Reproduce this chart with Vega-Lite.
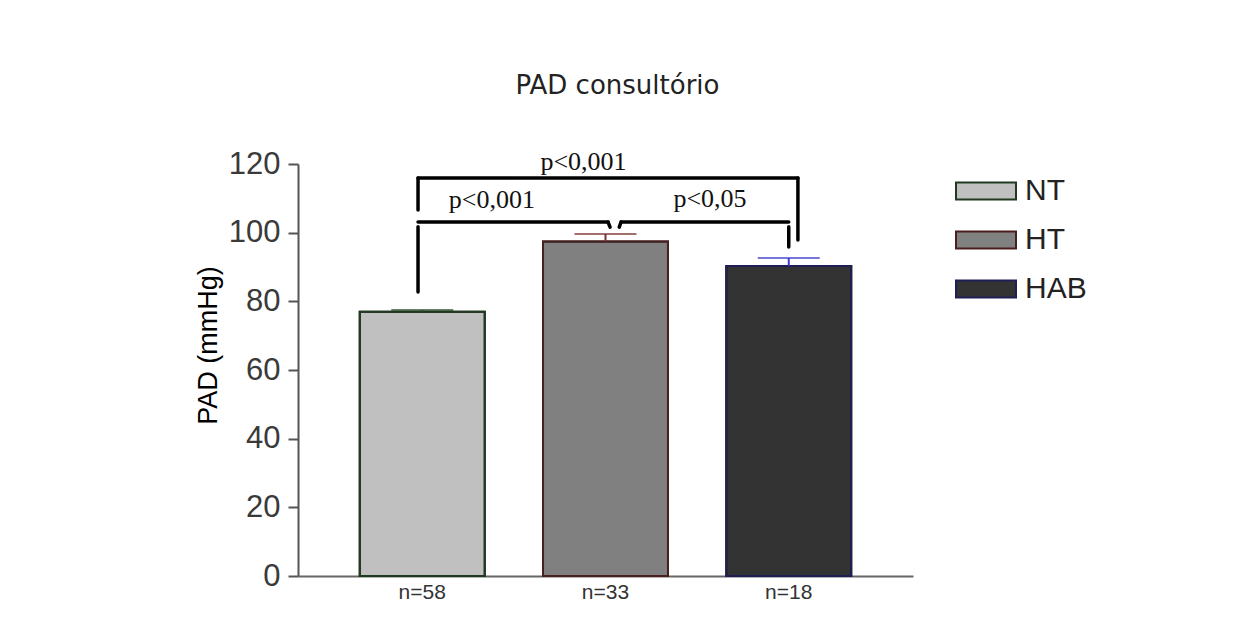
{
  "$schema": "https://vega.github.io/schema/vega-lite/v6.json",
  "autosize": "none",
  "width": 615,
  "height": 412,
  "padding": {"left": 298, "top": 164, "right": 340, "bottom": 65},
  "background": "white",
  "title": {
    "text": "PAD consultório",
    "font": "DejaVu Sans",
    "fontSize": 26,
    "fontWeight": "normal",
    "color": "#222222",
    "anchor": "middle",
    "frame": "group",
    "dx": 12,
    "offset": 49
  },
  "config": {
    "view": {"stroke": null},
    "axis": {"grid": false}
  },
  "datasets": {
    "bars": [
      {"group": "NT", "n": "n=58", "mean": 77.0, "upper": 77.5},
      {"group": "HT", "n": "n=33", "mean": 97.4, "upper": 99.6},
      {"group": "HAB", "n": "n=18", "mean": 90.3, "upper": 92.6}
    ],
    "segments": [
      {"x": 0.977, "x2": 3.05, "y": 115.9, "y2": 115.9},
      {"x": 0.977, "x2": 0.977, "y": 115.9, "y2": 106.6},
      {"x": 3.05, "x2": 3.05, "y": 115.9, "y2": 97.9},
      {"x": 0.977, "x2": 2.014, "y": 103.1, "y2": 103.1},
      {"x": 0.977, "x2": 0.977, "y": 101.7, "y2": 82.7},
      {"x": 2.014, "x2": 2.025, "y": 103.1, "y2": 101.6},
      {"x": 2.085, "x2": 3.0, "y": 103.1, "y2": 103.1},
      {"x": 2.085, "x2": 2.075, "y": 103.1, "y2": 101.6},
      {"x": 3.0, "x2": 3.0, "y": 101.7, "y2": 95.8}
    ],
    "labels": [
      {"text": "p<0,001", "x": 1.88, "y": 118.3},
      {"text": "p<0,001", "x": 1.38, "y": 107.2},
      {"text": "p<0,05", "x": 2.57, "y": 107.4}
    ]
  },
  "layer": [
    {
      "data": {"name": "bars"},
      "encoding": {
        "x": {
          "field": "n",
          "type": "nominal",
          "sort": ["n=58", "n=33", "n=18"],
          "scale": {"paddingInner": 0.318, "paddingOuter": 0.337},
          "axis": {
            "title": null,
            "labelAngle": 0,
            "labelFont": "Liberation Sans",
            "labelFontSize": 21,
            "labelColor": "#333333",
            "labelPadding": 5,
            "ticks": false,
            "domainColor": "#666666",
            "domainWidth": 2
          }
        }
      },
      "layer": [
        {
          "mark": {"type": "bar", "strokeWidth": 2, "stroke": "#111111"},
          "encoding": {
            "y": {
              "field": "mean",
              "type": "quantitative",
              "scale": {"domain": [0, 120], "nice": false},
              "axis": {
                "title": "PAD (mmHg)",
                "titleFont": "Liberation Sans",
                "titleFontSize": 27,
                "titleFontWeight": "normal",
                "titleColor": "#000000",
                "titlePadding": 6,
                "titleY": 181,
                "values": [0, 20, 40, 60, 80, 100, 120],
                "labelFont": "Liberation Sans",
                "labelFontSize": 31,
                "labelColor": "#3a3a3a",
                "labelPadding": 8,
                "tickSize": 10,
                "tickWidth": 2,
                "tickColor": "#555555",
                "domainColor": "#555555",
                "domainWidth": 2
              }
            },
            "fill": {
              "field": "group",
              "type": "nominal",
              "scale": {"domain": ["NT", "HT", "HAB"], "range": ["#c0c0c0", "#808080", "#333333"]},
              "legend": {
                "title": null,
                "orient": "none",
                "legendX": 657,
                "legendY": -4,
                "symbolType": "M-1,-0.28H1V0.28H-1Z",
                "symbolSize": 3600,
                "symbolStrokeColor": "#111111",
                "symbolStrokeWidth": 2,
                "symbolOpacity": 1,
                "labelFont": "Liberation Sans",
                "labelFontSize": 30,
                "labelColor": "#222222",
                "labelOffset": 8,
                "rowPadding": 3
              }
            }
          }
        },
        {
          "mark": {"type": "bar", "strokeWidth": 2, "fillOpacity": 0},
          "encoding": {
            "y": {"field": "mean", "type": "quantitative"},
            "stroke": {
              "field": "group",
              "type": "nominal",
              "scale": {"domain": ["NT", "HT", "HAB"], "range": ["#1f3a1f", "#4a1f1f", "#1f1f55"]},
              "legend": null
            }
          }
        },
        {
          "mark": {"type": "rule", "strokeWidth": 2},
          "encoding": {
            "y": {"field": "mean", "type": "quantitative"},
            "y2": {"field": "upper"},
            "color": {
              "field": "group",
              "type": "nominal",
              "scale": {"domain": ["NT", "HT", "HAB"], "range": ["#2a4a2a", "#7a3030", "#3a3acc"]},
              "legend": null
            }
          }
        },
        {
          "mark": {"type": "tick", "orient": "horizontal", "size": 62, "thickness": 2},
          "encoding": {
            "y": {"field": "upper", "type": "quantitative"},
            "color": {
              "field": "group",
              "type": "nominal",
              "legend": null
            }
          }
        }
      ]
    },
    {
      "layer": [
        {
          "data": {"name": "segments"},
          "mark": {"type": "rule", "strokeWidth": 3.5, "color": "#000000", "strokeCap": "round"},
          "encoding": {
            "x": {"field": "x", "type": "quantitative", "scale": {"domain": [0.322, 3.678], "nice": false, "zero": false}, "axis": null},
            "x2": {"field": "x2"},
            "y": {"field": "y", "type": "quantitative"},
            "y2": {"field": "y2"}
          }
        },
        {
          "data": {"name": "labels"},
          "mark": {"type": "text", "font": "Liberation Serif", "fontSize": 26, "color": "#111111", "align": "center", "baseline": "alphabetic"},
          "encoding": {
            "x": {"field": "x", "type": "quantitative", "axis": null},
            "y": {"field": "y", "type": "quantitative"},
            "text": {"field": "text"}
          }
        }
      ]
    }
  ],
  "resolve": {"scale": {"x": "independent"}, "axis": {"x": "independent"}}
}
